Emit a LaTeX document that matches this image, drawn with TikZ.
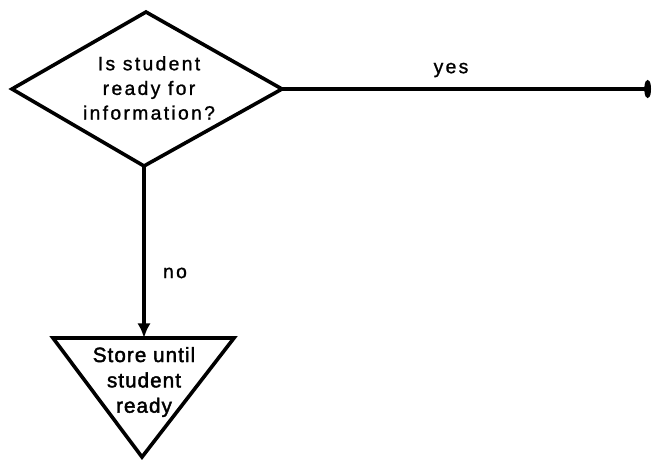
\documentclass[tikz,border=0pt]{standalone}
\usepackage{fontspec}
\setmainfont{Liberation Sans}[LetterSpace=12,FakeBold=1.2]
\newfontfamily\storefont{Liberation Sans}[LetterSpace=5,FakeBold=2]
\usetikzlibrary{arrows.meta}
\begin{document}
\begin{tikzpicture}[x=0.75pt,y=-0.75pt,
  outline/.style={line width=2.7pt,line join=miter},
  flow/.style={line width=2.5pt},
  boxtext/.style={align=center,font=\fontsize{14.5pt}{18.5pt}\selectfont,inner sep=0pt},
  storetext/.style={align=center,font=\storefont\fontsize{15.5pt}{19pt}\selectfont,inner sep=0pt},
  lbl/.style={font=\fontsize{14.5pt}{18pt}\selectfont,inner sep=0pt}]
  \useasboundingbox (0,0) rectangle (655,462);
  % decision diamond
  \coordinate (dl) at (12,89);
  \coordinate (dt) at (146,12);
  \coordinate (dr) at (282,89);
  \coordinate (db) at (144,166);
  \draw[outline] (dl) -- (dt) -- (dr) -- (db) -- cycle;
  \node[boxtext] (q) at (149,88) {Is student\\ready for\\information?};
  % storage triangle
  \coordinate (sl) at (53,338);
  \coordinate (sr) at (234,338);
  \coordinate (sb) at (142,457);
  \coordinate (st) at (144,338);
  \draw[outline] (sl) -- (sr) -- (sb) -- cycle;
  \node[storetext] (s) at (144,382) {Store until\\student\\ready};
  % connectors
  \coordinate (yesend) at (651,89);
  \draw[flow,-{Latex[length=11pt,width=10pt]}] (db) -- (st);
  \draw[flow,-{Circle[length=5pt,width=13pt]}] (dr) -- (yesend);
  \node[lbl] (yes) at (451,70) {yes};
  \node[lbl] (no) at (175,273) {no};
\end{tikzpicture}
\end{document}
